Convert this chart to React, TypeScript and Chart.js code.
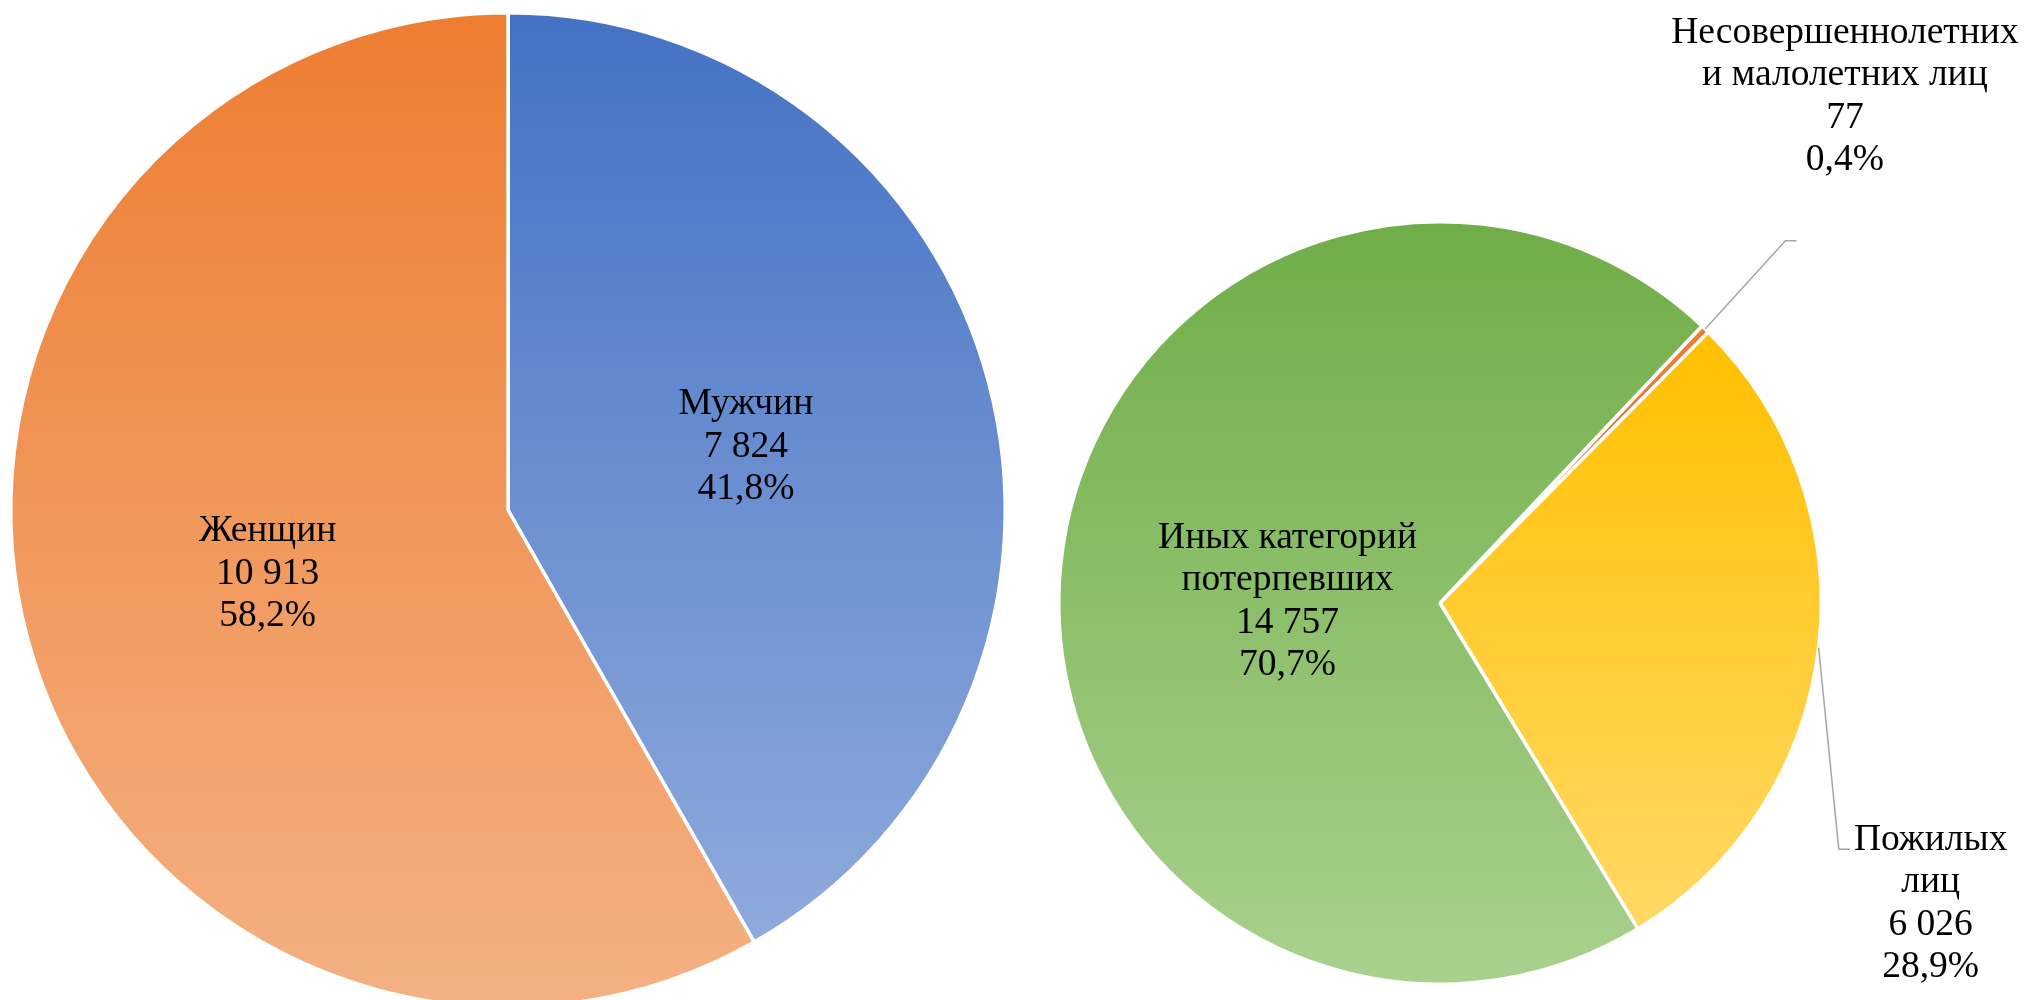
import React, { useEffect, useRef } from "react";
import { Chart, registerables } from "chart.js";

Chart.register(...registerables);

// ---- data ----
const genderLabels: string[][] = [["Мужчин"], ["Женщин"]];
const genderValues: number[] = [7824, 10913];

const categoryLabels: string[][] = [
  ["Несовершеннолетних", "и малолетних лиц"],
  ["Пожилых", "лиц"],
  ["Иных категорий", "потерпевших"],
];
const categoryValues: number[] = [77, 6026, 14757];

// ---- styles ----
const genderColors: [string, string][] = [
  ["#4472C4", "#8FAADC"],
  ["#ED7D31", "#F4B183"],
];
const categoryColors: [string, string][] = [
  ["#ED7D31", "#ED7D31"],
  ["#FFC000", "#FFD966"],
  ["#70AD47", "#A9D18E"],
];

type LabelCfg =
  | { mode: "in"; r: number; shift?: number }
  | { mode: "out"; text: [number, number]; elbow: [number, number]; end: [number, number] };

const genderLabelCfg: LabelCfg[] = [
  { mode: "in", r: 0.495 },
  { mode: "in", r: 0.5 },
];
const categoryLabelCfg: LabelCfg[] = [
  { mode: "out", text: [1.062, -1.328], elbow: [0.906, -0.95], end: [0.935, -0.95] },
  { mode: "out", text: [1.287, 0.789], elbow: [1.046, 0.646], end: [1.075, 0.646] },
  { mode: "in", r: 0.4, shift: -5.5 },
];

const FONT = "37.5px 'Liberation Serif', 'Times New Roman', serif";
const LINE_H = 42.5;

function fmtNum(v: number): string {
  return String(v).replace(/\B(?=(\d{3})+(?!\d))/g, " ");
}
function fmtPct(v: number, total: number): string {
  return (v / total * 100).toFixed(1).replace(".", ",") + "%";
}

function makeGradientPlugin(colors: [string, string][]) {
  return {
    id: "sliceGradient",
    beforeDatasetsDraw(chart: any) {
      const ctx = chart.ctx;
      const meta = chart.getDatasetMeta(0);
      meta.data.forEach((el: any, i: number) => {
        const y = el.y, startAngle = el.startAngle, endAngle = el.endAngle, R = el.outerRadius;
        let ymin = Math.min(y, y + R * Math.sin(startAngle), y + R * Math.sin(endAngle));
        let ymax = Math.max(y, y + R * Math.sin(startAngle), y + R * Math.sin(endAngle));
        for (let k = -2; k <= 2; k++) {
          const bottom = Math.PI / 2 + k * 2 * Math.PI;
          const top = -Math.PI / 2 + k * 2 * Math.PI;
          if (bottom >= startAngle && bottom <= endAngle) ymax = y + R;
          if (top >= startAngle && top <= endAngle) ymin = y - R;
        }
        if (!(ymax > ymin)) ymax = ymin + 1;
        const g = ctx.createLinearGradient(0, ymin, 0, ymax);
        g.addColorStop(0, colors[i][0]);
        g.addColorStop(1, colors[i][1]);
        if (el.options) {
          try {
            el.options.backgroundColor = g;
          } catch (e) {
            /* ignore */
          }
        }
      });
    },
  };
}

function makeLabelPlugin(names: string[][], values: number[], lcfg: LabelCfg[]) {
  return {
    id: "sliceLabels",
    afterDatasetsDraw(chart: any) {
      const ctx = chart.ctx;
      const meta = chart.getDatasetMeta(0);
      const total = values.reduce((a, b) => a + b, 0);
      ctx.save();
      meta.data.forEach((el: any, i: number) => {
        const x = el.x, y = el.y, R = el.outerRadius;
        const mid = (el.startAngle + el.endAngle) / 2;
        const c = lcfg[i];
        let tx: number, ty: number;
        if (c.mode === "in") {
          const a = mid + ((c.shift || 0) * Math.PI) / 180;
          tx = x + Math.cos(a) * R * c.r;
          ty = y + Math.sin(a) * R * c.r;
        } else {
          const sx = x + Math.cos(mid) * R;
          const sy = y + Math.sin(mid) * R;
          ctx.strokeStyle = "#A6A6A6";
          ctx.lineWidth = 1.5;
          ctx.beginPath();
          ctx.moveTo(sx, sy);
          ctx.lineTo(x + c.elbow[0] * R, y + c.elbow[1] * R);
          ctx.lineTo(x + c.end[0] * R, y + c.end[1] * R);
          ctx.stroke();
          tx = x + c.text[0] * R;
          ty = y + c.text[1] * R;
        }
        const lines = [...names[i], fmtNum(values[i]), fmtPct(values[i], total)];
        ctx.font = FONT;
        ctx.fillStyle = "#000";
        ctx.textAlign = "center";
        ctx.textBaseline = "middle";
        lines.forEach((t, j) => {
          ctx.fillText(t, tx, ty + (j - (lines.length - 1) / 2) * LINE_H);
        });
      });
      ctx.restore();
    },
  };
}

type PieProps = {
  left: number;
  top: number;
  width: number;
  height: number;
  padding: { left: number; right: number; top: number; bottom: number };
  names: string[][];
  values: number[];
  colors: [string, string][];
  rotation: number;
  labelCfg: LabelCfg[];
};

function PieCanvas(p: PieProps) {
  const ref = useRef<HTMLCanvasElement>(null);
  useEffect(() => {
    if (!ref.current) return;
    const baseColors = p.colors.map((c) => c[0]);
    const chart = new Chart(ref.current, {
      type: "pie",
      data: {
        labels: p.names.map((n) => n.join(" ")),
        datasets: [
          {
            data: p.values,
            backgroundColor: (c: any) => baseColors[c.dataIndex],
            borderColor: "#FFFFFF",
            borderWidth: 3.5,
          },
        ],
      },
      options: {
        responsive: false,
        animation: false,
        rotation: p.rotation,
        layout: { padding: p.padding },
        plugins: {
          legend: { display: false },
          tooltip: { enabled: false },
        },
      },
      plugins: [makeGradientPlugin(p.colors), makeLabelPlugin(p.names, p.values, p.labelCfg)],
    } as any);
    return () => chart.destroy();
  }, []);
  return (
    <canvas
      ref={ref}
      width={p.width}
      height={p.height}
      style={{ position: "absolute", left: p.left, top: p.top, width: p.width, height: p.height }}
    />
  );
}

export default function App() {
  return (
    <div
      style={{
        position: "absolute",
        left: 0,
        top: 0,
        width: 2026,
        height: 1000,
        overflow: "hidden",
        background: "#FFFFFF",
      }}
    >
      <PieCanvas
        left={0}
        top={0}
        width={1016}
        height={1020}
        padding={{ left: 9, right: 9, top: 11, bottom: 11 }}
        names={genderLabels}
        values={genderValues}
        colors={genderColors}
        rotation={0}
        labelCfg={genderLabelCfg}
      />
      <PieCanvas
        left={1030}
        top={0}
        width={996}
        height={1000}
        padding={{ left: 27, right: 203, top: 220, bottom: 14 }}
        names={categoryLabels}
        values={categoryValues}
        colors={categoryColors}
        rotation={43.4}
        labelCfg={categoryLabelCfg}
      />
    </div>
  );
}
